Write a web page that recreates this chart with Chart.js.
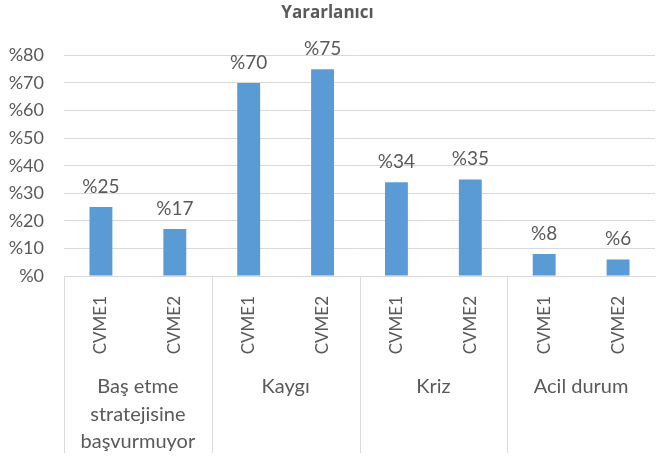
<!DOCTYPE html>
<html>
<head>
<meta charset="utf-8">
<script src="https://cdn.jsdelivr.net/npm/chart.js@4"></script>
<style>
  body { margin: 0; background: #fff; }
  #wrap { width: 657px; height: 457px; }
</style>
</head>
<body>
<div id="wrap"><canvas id="barChart"></canvas></div>
<script>
const subLabels = ["CVME1", "CVME2", "CVME1", "CVME2", "CVME1", "CVME2", "CVME1", "CVME2"];
const groupLabels = [["Baş etme", "stratejisine", "başvurmuyor"], "Kaygı", "Kriz", "Acil durum"];
const values = [25, 17, 70, 75, 34, 35, 8, 6];
const yMax = 80;
const yStep = 10;

const textColor = "#595959";
const fontFamily = "Lato, 'Open Sans', sans-serif";

// vertical lines between the groups, under the axis
const groupLines = {
    id: "groupLines",
    afterDraw(chart) {
        const x = chart.scales.x;
        const ctx = chart.ctx;
        const top = chart.chartArea.bottom;
        const bottom = chart.height - 4;
        const xs = [x.left];
        for (let i = 1; i < subLabels.length - 1; i += 2) {
            xs.push((x.getPixelForTick(i) + x.getPixelForTick(i + 1)) / 2);
        }
        ctx.save();
        ctx.strokeStyle = "#d9d9d9";
        ctx.lineWidth = 1;
        xs.forEach(px => {
            ctx.beginPath();
            ctx.moveTo(Math.round(px) + 0.5, top);
            ctx.lineTo(Math.round(px) + 0.5, bottom);
            ctx.stroke();
        });
        ctx.restore();
    }
};

// value labels above bars
const valueLabels = {
    id: "valueLabels",
    afterDatasetsDraw(chart) {
        const ctx = chart.ctx;
        const meta = chart.getDatasetMeta(0);
        ctx.save();
        ctx.font = "19px " + fontFamily;
        ctx.fillStyle = textColor;
        ctx.textAlign = "center";
        ctx.textBaseline = "alphabetic";
        meta.data.forEach((bar, i) => {
            ctx.fillText("%" + values[i], bar.x, bar.y - 14);
        });
        ctx.restore();
    }
};

new Chart(document.getElementById("barChart").getContext("2d"), {
    type: "bar",
    data: {
        labels: subLabels,
        datasets: [{
            data: values,
            backgroundColor: "#5b9bd5",
            barPercentage: 0.31,
            categoryPercentage: 1
        }]
    },
    options: {
        responsive: true,
        maintainAspectRatio: false,
        animation: false,
        layout: { padding: { left: 0, right: 2, top: 0, bottom: 2 } },
        plugins: {
            legend: { display: false },
            tooltip: { enabled: false },
            title: {
                display: true,
                text: "Yararlanıcı",
                color: textColor,
                font: { family: "'Open Sans', sans-serif", size: 17, weight: "bold" },
                padding: { top: 3, bottom: 32 }
            }
        },
        scales: {
            y: {
                min: 0,
                max: yMax,
                afterFit: s => { s.width = 64; },
                ticks: {
                    stepSize: yStep,
                    callback: v => "%" + v,
                    color: textColor,
                    font: { family: fontFamily, size: 18 },
                    padding: 20
                },
                grid: { color: "#d9d9d9", drawTicks: false },
                border: { display: false }
            },
            x: {
                afterFit: s => { s.height = 78; },
                grid: { display: false },
                border: { display: true, color: "#d9d9d9" },
                ticks: {
                    minRotation: 90,
                    maxRotation: 90,
                    autoSkip: false,
                    color: textColor,
                    font: { family: fontFamily, size: 17 },
                    padding: 12
                }
            },
            x2: {
                type: "category",
                labels: groupLabels,
                position: "bottom",
                offset: true,
                afterFit: s => { s.height = 101; },
                grid: { display: false },
                border: { display: false },
                ticks: {
                    maxRotation: 0,
                    autoSkip: false,
                    color: textColor,
                    font: { family: fontFamily, size: 20, lineHeight: 1.37 },
                    padding: 11
                }
            }
        }
    },
    plugins: [groupLines, valueLabels]
});
</script>
</body>
</html>
